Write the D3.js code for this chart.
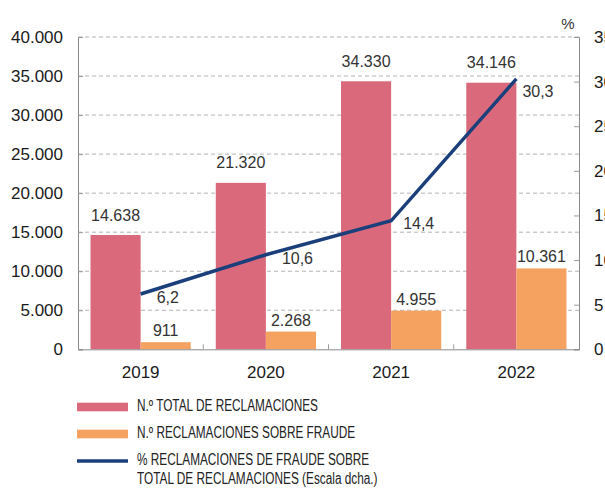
<!DOCTYPE html>
<html>
<head>
<meta charset="utf-8">
<script src="https://cdn.jsdelivr.net/npm/d3@7"></script>
<style>
  html, body { margin: 0; padding: 0; background: #fff; }
  svg { display: block; font-family: "Liberation Sans", Arial, Helvetica, sans-serif; }
  .legend text { font-family: "Liberation Sans", Arial, sans-serif; }
</style>
</head>
<body>
<div id="chart"></div>
<script>
// data
const years = ["2019", "2020", "2021", "2022"]
const totalClaims = [14638, 21320, 34330, 34146]
const fraudClaims = [911, 2268, 4955, 10361]
const fraudPct = [6.2, 10.6, 14.4, 30.3]
const leftTicks = [0, 5000, 10000, 15000, 20000, 25000, 30000, 35000, 40000]
const rightTicks = [0, 5, 10, 15, 20, 25, 30, 35]
const legendLabels = [
    ["N.º TOTAL DE RECLAMACIONES"],
    ["N.º RECLAMACIONES SOBRE FRAUDE"],
    ["% RECLAMACIONES DE FRAUDE SOBRE", "TOTAL DE RECLAMACIONES (Escala dcha.)"]
]

const width = 605, height = 488
const m = { left: 78, right: 579, top: 37, bottom: 349.3 }
const colors = { total: "#DA6A7B", fraud: "#F5A261", pct: "#1B3F7B" }

const es = d3.formatLocale({ decimal: ",", thousands: ".", grouping: [3], currency: ["", " €"] })
const fmtInt = es.format(",d")
const fmtPct = es.format(".1f")

const svg = d3.select("#chart")
    .append("svg")
    .attr("width", width)
    .attr("height", height)

const x = d3.scaleBand()
    .domain(years)
    .range([m.left, m.right])
    .paddingInner(0.2)
    .paddingOuter(0.1)

const y = d3.scaleLinear()
    .domain([0, 40000])
    .range([m.bottom, m.top])

const y2 = d3.scaleLinear()
    .domain([0, 35])
    .range([m.bottom, m.top])

const half = x.bandwidth() / 2

// gridlines
svg.append("g")
    .selectAll("line")
    .data(leftTicks.filter(d => d > 0))
    .join("line")
    .attr("x1", m.left)
    .attr("x2", m.right)
    .attr("y1", d => y(d))
    .attr("y2", d => y(d))
    .attr("stroke", "#b3b3b3")
    .attr("stroke-dasharray", "4,3")

// left axis
svg.append("g")
    .attr("transform", `translate(${m.left},0)`)
    .call(d3.axisLeft(y)
        .tickValues(leftTicks)
        .tickSize(-5)
        .tickPadding(15)
        .tickFormat(fmtInt))
    .call(g => g.select(".domain").attr("stroke", "#8a8a8a"))
    .call(g => g.selectAll(".tick line").attr("stroke", "#9a9a9a"))
    .call(g => g.selectAll(".tick text")
        .attr("font-size", 17)
        .attr("font-family", "Liberation Sans, Arial, sans-serif")
        .attr("fill", "#1a1a1a"))

// right axis (labels run off the edge, like the source)
svg.append("g")
    .attr("transform", `translate(${m.right},0)`)
    .call(d3.axisRight(y2)
        .tickValues(rightTicks)
        .tickSize(-5)
        .tickPadding(15)
        .tickFormat(d3.format("d")))
    .call(g => g.select(".domain").attr("stroke", "#8a8a8a"))
    .call(g => g.selectAll(".tick line").attr("stroke", "#9a9a9a"))
    .call(g => g.selectAll(".tick text")
        .attr("font-size", 17)
        .attr("font-family", "Liberation Sans, Arial, sans-serif")
        .attr("fill", "#1a1a1a"))

svg.append("text")
    .attr("x", m.right - 11)
    .attr("y", 25)
    .attr("text-anchor", "middle")
    .attr("dominant-baseline", "middle")
    .attr("font-size", 15)
    .attr("fill", "#333")
    .text("%")

// bars
const bars = svg.append("g")
bars.selectAll(".total")
    .data(years)
    .join("rect")
    .attr("x", d => x(d))
    .attr("y", (d, i) => y(totalClaims[i]))
    .attr("width", half)
    .attr("height", (d, i) => y(0) - y(totalClaims[i]))
    .attr("fill", colors.total)

bars.selectAll(".fraud")
    .data(years)
    .join("rect")
    .attr("x", d => x(d) + half)
    .attr("y", (d, i) => y(fraudClaims[i]))
    .attr("width", half)
    .attr("height", (d, i) => y(0) - y(fraudClaims[i]))
    .attr("fill", colors.fraud)

// bottom axis
svg.append("g")
    .attr("transform", `translate(0,${m.bottom})`)
    .call(d3.axisBottom(x).tickSize(0).tickPadding(17))
    .call(g => g.select(".domain").attr("stroke", "#8a8a8a"))
    .call(g => g.selectAll(".tick text")
        .attr("font-size", 17)
        .attr("font-family", "Liberation Sans, Arial, sans-serif")
        .attr("fill", "#1a1a1a"))

// small ticks between categories
const step = x.step()
svg.append("g")
    .selectAll("line")
    .data(years.slice(1))
    .join("line")
    .attr("x1", d => x(d) - (step - x.bandwidth()) / 2)
    .attr("x2", d => x(d) - (step - x.bandwidth()) / 2)
    .attr("y1", m.bottom)
    .attr("y2", m.bottom - 5)
    .attr("stroke", "#9a9a9a")

// value labels
svg.append("g")
    .selectAll("text")
    .data(years)
    .join("text")
    .attr("x", d => x(d) + half / 2)
    .attr("y", (d, i) => y(totalClaims[i]) - 14.5)
    .attr("text-anchor", "middle")
    .attr("font-size", 16)
    .attr("fill", "#333")
    .text((d, i) => fmtInt(totalClaims[i]))

svg.append("g")
    .selectAll("text")
    .data(years)
    .join("text")
    .attr("x", d => x(d) + half * 1.5)
    .attr("y", (d, i) => y(fraudClaims[i]) - 6)
    .attr("text-anchor", "middle")
    .attr("font-size", 16)
    .attr("fill", "#333")
    .text((d, i) => fmtInt(fraudClaims[i]))

// percentage line
const line = d3.line()
    .x(d => x(d.year) + half)
    .y(d => y2(d.value))

const pctData = years.map((d, i) => ({ year: d, value: fraudPct[i] }))

svg.append("path")
    .datum(pctData)
    .attr("fill", "none")
    .attr("stroke", colors.pct)
    .attr("stroke-width", 3.5)
    .attr("d", line)

// hand-placed label nudges, as in the original
const pctNudge = [[16, 4.5], [16, 5], [12, 4], [6, 14]]
svg.append("g")
    .selectAll("text")
    .data(pctData)
    .join("text")
    .attr("x", (d, i) => x(d.year) + half + pctNudge[i][0])
    .attr("y", (d, i) => y2(d.value) + pctNudge[i][1])
    .attr("dominant-baseline", "middle")
    .attr("font-size", 16)
    .attr("fill", "#333")
    .text(d => fmtPct(d.value))

// legend
const legend = svg.append("g").attr("class", "legend")
const legendY = [407, 434, 461]

legend.append("rect")
    .attr("x", 77).attr("y", legendY[0] - 4.3)
    .attr("width", 51).attr("height", 8.6)
    .attr("fill", colors.total)
legend.append("rect")
    .attr("x", 77).attr("y", legendY[1] - 4.3)
    .attr("width", 51).attr("height", 8.6)
    .attr("fill", colors.fraud)
legend.append("line")
    .attr("x1", 77).attr("x2", 128)
    .attr("y1", legendY[2]).attr("y2", legendY[2])
    .attr("stroke", colors.pct)
    .attr("stroke-width", 3.5)

// the source uses a condensed face; squeeze a regular one to the same width
const legendTexts = []
legendLabels.forEach((lines, i) => {
    lines.forEach((t, j) => {
        legendTexts.push(legend.append("text")
            .attr("x", 137)
            .attr("y", legendY[i] + j * 19)
            .attr("dominant-baseline", "middle")
            .attr("font-size", 16)
            .attr("fill", "#222")
            .text(t))
    })
})
const squeeze = 181 / legendTexts[0].node().getComputedTextLength()
legendTexts.forEach(t => {
    t.attr("textLength", t.node().getComputedTextLength() * squeeze)
        .attr("lengthAdjust", "spacingAndGlyphs")
})
</script>
</body>
</html>
